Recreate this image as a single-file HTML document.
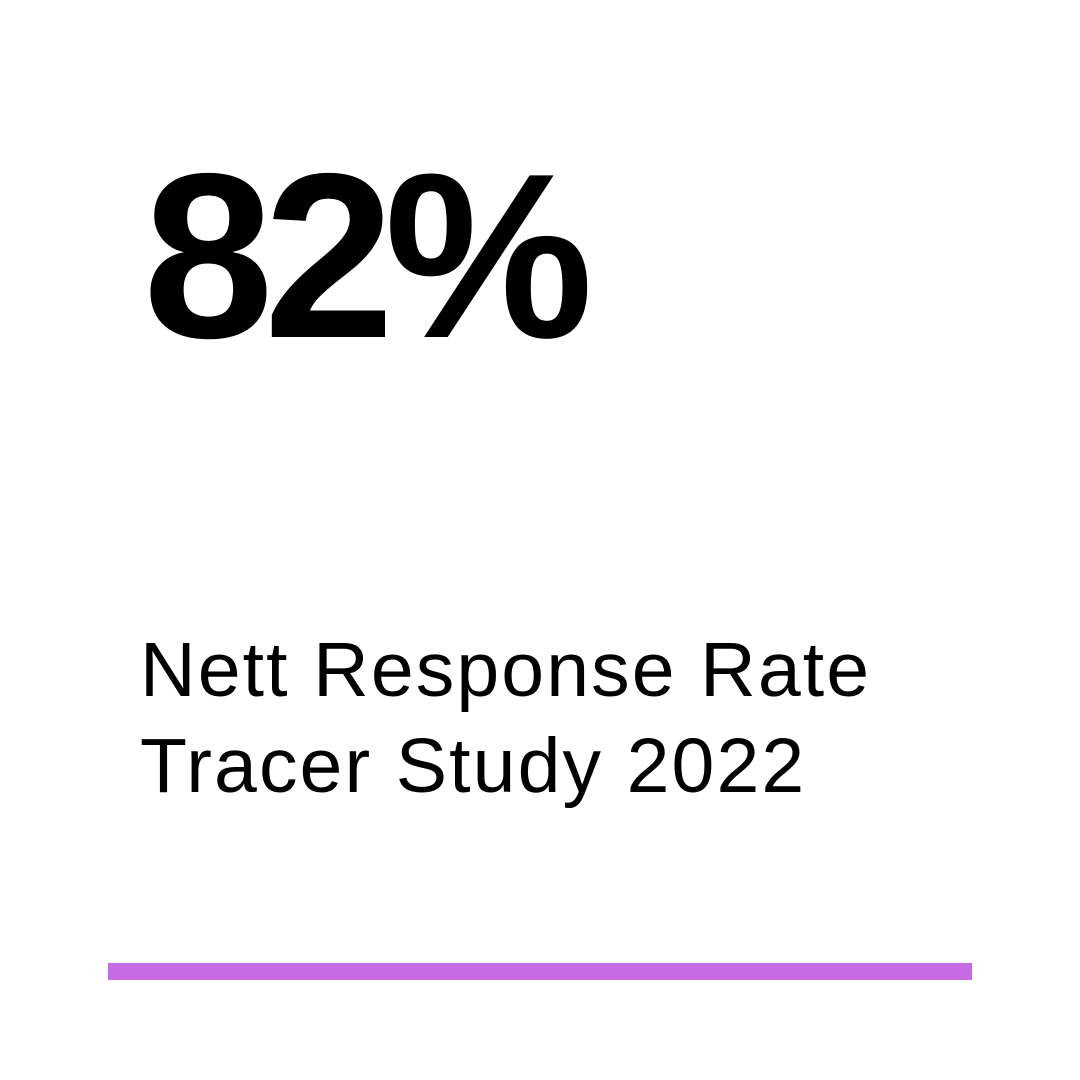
<!DOCTYPE html>
<html><head><meta charset="utf-8"><style>
html,body{margin:0;padding:0;background:#fff;}
body{width:1080px;height:1080px;position:relative;overflow:hidden;font-family:"Liberation Sans",sans-serif;color:#000;}
.big{position:absolute;left:143px;top:138px;font-size:235px;line-height:1;font-weight:bold;letter-spacing:-10px;white-space:nowrap;}
.sub{position:absolute;left:140px;font-size:77px;line-height:1;letter-spacing:2.1px;white-space:nowrap;}
.bar{position:absolute;left:108px;top:963px;width:864px;height:17px;background:#c86be3;}
</style></head><body>
<div class="big">82%</div>
<div class="sub" style="top:632px">Nett Response Rate</div>
<div class="sub" style="top:728px">Tracer Study 2022</div>
<div class="bar"></div>
</body></html>
